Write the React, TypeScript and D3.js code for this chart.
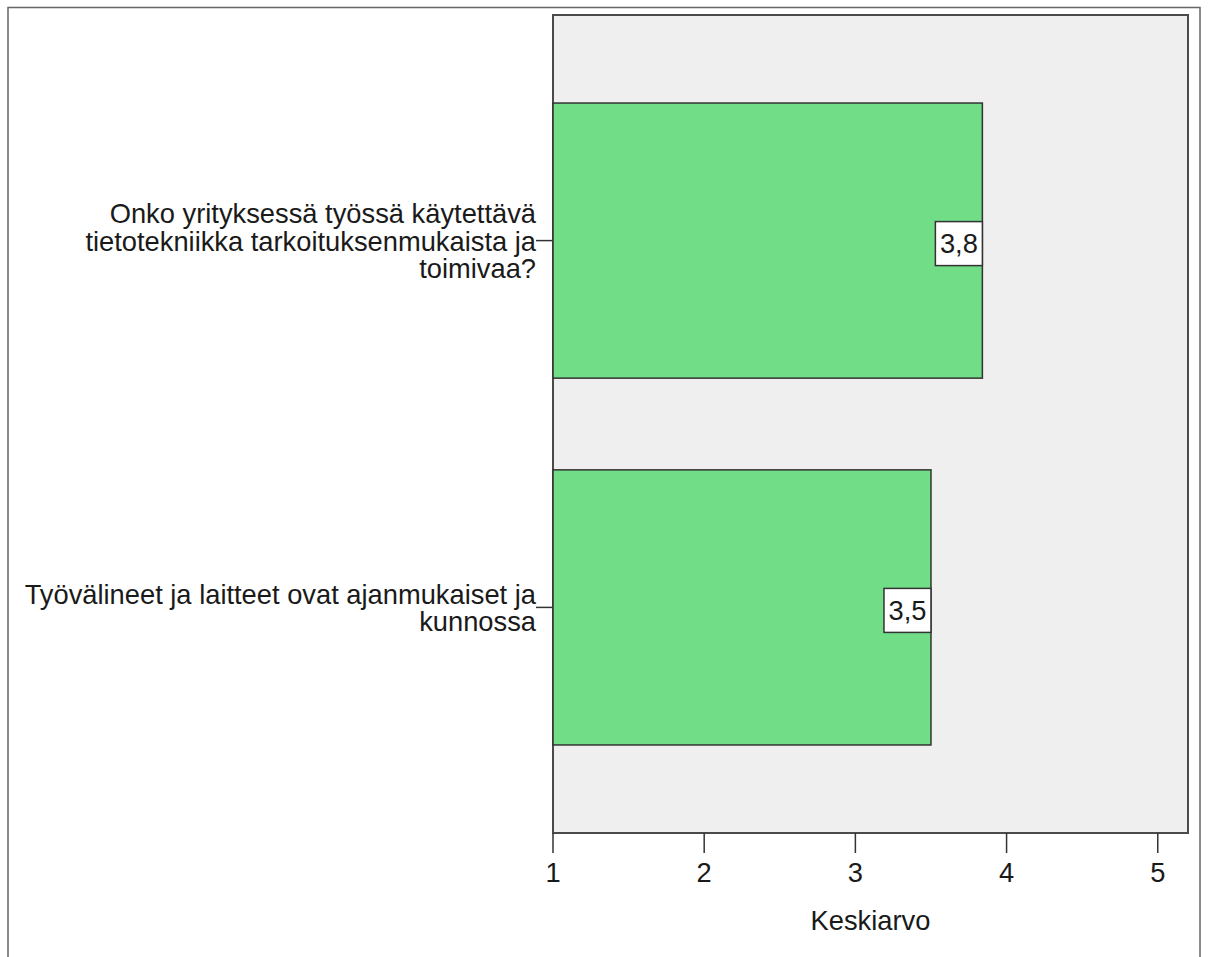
import React from 'react';
import * as d3 from 'd3';

const categoryKeys = ['q1', 'q2'];
const categoryLines = [
  ['Onko yrityksessä työssä käytettävä', 'tietotekniikka tarkoituksenmukaista ja', 'toimivaa?'],
  ['Työvälineet ja laitteet ovat ajanmukaiset ja', 'kunnossa'],
];
const means = [3.84, 3.5];
const valueLabels = ['3,8', '3,5'];
const xTicks = [1, 2, 3, 4, 5];
const xTitle = 'Keskiarvo';

const W = 1208;
const H = 957;
const plot = { left: 553, right: 1188, top: 15, bottom: 833 };
const FONT = "'Liberation Sans', Arial, sans-serif";

export default function App() {
  const x = d3.scaleLinear().domain([1, 5.2]).range([plot.left, plot.right]);
  const y = d3
    .scaleBand<string>()
    .domain(categoryKeys)
    .range([plot.top, plot.bottom])
    .paddingInner(0.25)
    .paddingOuter(0.24);
  const fs = 27.3;
  const lh = 27.5;

  return (
    <svg
      width={W}
      height={H}
      style={{ position: 'absolute', left: 0, top: 0, background: '#fff' }}
      fontFamily={FONT}
    >
      <rect x={8} y={7.5} width={1192} height={H + 20} fill="#fff" stroke="#666" strokeWidth={1.5} />
      <rect
        x={plot.left}
        y={plot.top}
        width={plot.right - plot.left}
        height={plot.bottom - plot.top}
        fill="#efefef"
        stroke="#4a4a4a"
        strokeWidth={2}
      />
      {categoryKeys.map((k, i) => {
        const y0 = y(k)!;
        const bw = y.bandwidth();
        const cy = y0 + bw / 2;
        const xEnd = x(means[i]);
        const lines = categoryLines[i];
        const firstDy = -((lines.length - 1) * lh) / 2;
        return (
          <g key={k}>
            <rect
              x={x(1)}
              y={y0}
              width={xEnd - x(1)}
              height={bw}
              fill="#71dd86"
              stroke="#333"
              strokeWidth={1.5}
            />
            <line x1={536} x2={plot.left} y1={cy} y2={cy} stroke="#333" strokeWidth={1.5} />
            <text
              x={536}
              y={cy}
              textAnchor="end"
              fontSize={fs}
              fill="#1a1a1a"
              dominantBaseline="central"
            >
              {lines.map((ln, j) => (
                <tspan key={j} x={536} dy={j === 0 ? firstDy : lh}>
                  {ln}
                </tspan>
              ))}
            </text>
            <rect
              x={xEnd - 47}
              y={cy + 3 - 22}
              width={47}
              height={44}
              fill="#fff"
              stroke="#333"
              strokeWidth={1.5}
            />
            <text
              x={xEnd - 23.5}
              y={cy + 3}
              textAnchor="middle"
              dominantBaseline="central"
              fontSize={fs}
              fill="#1a1a1a"
            >
              {valueLabels[i]}
            </text>
          </g>
        );
      })}
      {xTicks.map((t) => (
        <g key={t}>
          <line x1={x(t)} x2={x(t)} y1={plot.bottom} y2={plot.bottom + 20} stroke="#333" strokeWidth={1.5} />
          <text
            x={x(t)}
            y={872}
            textAnchor="middle"
            dominantBaseline="central"
            fontSize={fs}
            fill="#1a1a1a"
          >
            {t}
          </text>
        </g>
      ))}
      <text
        x={(plot.left + plot.right) / 2}
        y={920}
        textAnchor="middle"
        dominantBaseline="central"
        fontSize={fs}
        fill="#1a1a1a"
      >
        {xTitle}
      </text>
    </svg>
  );
}
